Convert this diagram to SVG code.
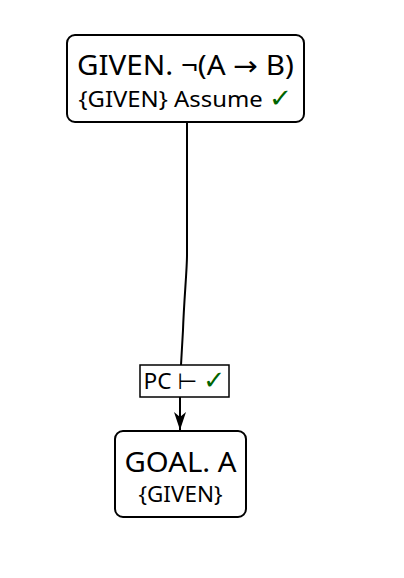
<svg xmlns="http://www.w3.org/2000/svg" width="404" height="578" viewBox="0 0 404 578">
<style>
.box{fill:#fff;stroke:#000;stroke-width:2}
.t{font-family:"Noto Sans","DejaVu Sans",sans-serif;fill:#000;text-anchor:middle}
.big{font-size:27px}
.small{font-size:22px}
.ok{fill:#006400}
.edge{fill:none;stroke:#000;stroke-width:2}
</style>
<defs>
<marker id="arr" viewBox="0 0 18 12" refX="18" refY="6" markerWidth="18" markerHeight="12" markerUnits="userSpaceOnUse" orient="auto">
<path d="M0,0 L18,6 L0,12 L5,6 Z" fill="#000"/>
</marker>
</defs>
<rect width="404" height="578" fill="#fff"/>
<g id="connectors">
<path class="edge" d="M187,122 L187,255 C187,270 184,300 183,330 L181,365"/>
<path class="edge" d="M180,397 L180,430" marker-end="url(#arr)"/>
</g>
<g id="given">
<rect class="box" x="67" y="35" width="237" height="87" rx="8"/>
<text class="t big" x="185.5" y="75" textLength="217" lengthAdjust="spacingAndGlyphs">GIVEN. ¬(A → B)</text>
<text class="t small" x="185.5" y="107" textLength="214" lengthAdjust="spacingAndGlyphs">{GIVEN} Assume <tspan class="ok" font-size="26">✓</tspan></text>
</g>
<g id="edge-label">
<rect x="140" y="365" width="89" height="32" fill="#fff" stroke="#000" stroke-width="1.5"/>
<text class="t small" x="184.5" y="389" textLength="82" lengthAdjust="spacingAndGlyphs">PC ⊢ <tspan class="ok" font-size="26">✓</tspan></text>
</g>
<g id="goal">
<rect class="box" x="115" y="431" width="131" height="86" rx="8"/>
<text class="t big" x="180.5" y="472" textLength="112" lengthAdjust="spacingAndGlyphs">GOAL. A</text>
<text class="t small" x="180.5" y="502" textLength="84" lengthAdjust="spacingAndGlyphs">{GIVEN}</text>
</g>
</svg>
